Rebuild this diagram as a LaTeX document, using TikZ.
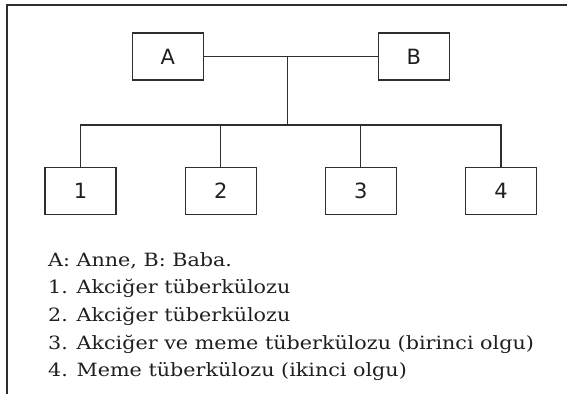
\documentclass[tikz,border=0pt]{standalone}
\usepackage{fontspec}
\setmainfont{DejaVu Serif}
\newfontfamily\legendfont{DejaVu Serif}[FakeStretch=1.13]
\newfontfamily\boxfont{DejaVu Sans}
\begin{document}
\begin{tikzpicture}[x=1pt,y=-1pt,
  ink/.style={draw=black!82,line width=1.3pt},
  person/.style={ink,minimum width=71pt,minimum height=47pt,inner sep=0pt,
    font=\boxfont\fontsize{21}{21}\selectfont,text=black!88},
  legend/.style={anchor=base west,inner sep=0pt,
    font=\legendfont\fontsize{18.3}{18.3}\selectfont,text=black!88}]
\useasboundingbox (0,0) rectangle (567,394);
% frame: top and left edges only
\draw[ink] (7,394) -- (7,5) -- (567,5);
% parents
\node[person] (A) at (167.8,56.5) {A};
\node[person] (B) at (413.8,56.5) {B};
% children
\node[person] (c1) at (80.5,191) {1};
\node[person] (c2) at (220.7,191) {2};
\node[person] (c3) at (360.8,191) {3};
\node[person] (c4) at (501,191) {4};
% pedigree connectors
\coordinate (m) at (287.3,56.5);
\coordinate (j) at (287.3,125);
\draw[ink] (A.east) -- (B.west);
\draw[ink] (m) -- (j);
\draw[ink] (c1.north) |- (c4.north |- j) -- (c4.north);
\draw[ink] (c2.north) -- (c2.north |- j);
\draw[ink] (c3.north) -- (c3.north |- j);
% legend
\node[legend] (l0) at (48,266) {A: Anne, B: Baba.};
\node[legend] (l1) at (48,293.7) {1. Akciğer tüberkülozu};
\node[legend] (l2) at (48,321.4) {2. Akciğer tüberkülozu};
\node[legend] (l3) at (48,349.1) {3. Akciğer ve meme tüberkülozu (birinci olgu)};
\node[legend] (l4) at (48,376.8) {4. Meme tüberkülozu (ikinci olgu)};
\end{tikzpicture}
\end{document}
